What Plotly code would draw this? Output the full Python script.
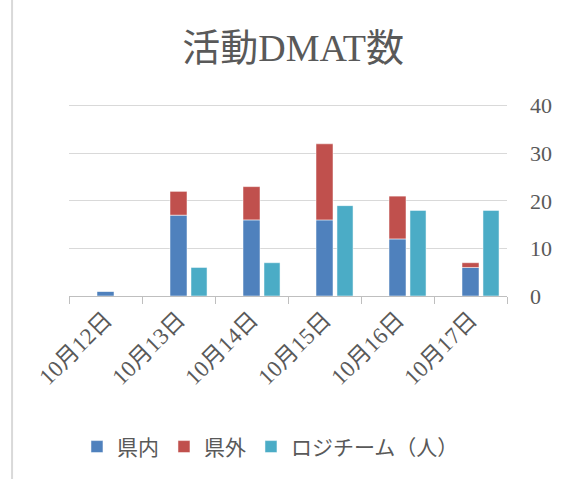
import plotly.graph_objects as go

categories = ["10月12日", "10月13日", "10月14日", "10月15日", "10月16日", "10月17日"]
kennai = [1, 17, 16, 16, 12, 6]
kengai = [0, 5, 7, 16, 9, 1]
logi = [0, 6, 7, 19, 18, 18]
y_ticks = [0, 10, 20, 30, 40]

FONT = "Liberation Serif, 'Noto Sans CJK JP', serif"
TXT = "#595959"

fig = go.Figure()
fig.add_trace(go.Bar(x=categories, y=kennai, name="県内", marker_color="#4f81bd",
                     width=0.233, offset=-0.1165, marker_line=dict(color="#ffffff", width=0.5)))
fig.add_trace(go.Bar(x=categories, y=kengai, base=kennai, name="県外", marker_color="#c0504d",
                     width=0.233, offset=-0.1165, marker_line=dict(color="#ffffff", width=0.5)))
fig.add_trace(go.Bar(x=categories, y=logi, name="ロジチーム（人）", marker_color="#4bacc6",
                     width=0.22, offset=0.171, marker_line=dict(color="#ffffff", width=0.5)))

fig.update_layout(
    width=567, height=479,
    barmode="overlay",
    plot_bgcolor="white", paper_bgcolor="white",
    margin=dict(l=69, r=60, t=101, b=183, autoexpand=False),
    font=dict(family=FONT, color=TXT, size=21),
    title=dict(text="活動DMAT数", x=0.517, xanchor="center", y=0.9, yanchor="middle",
               font=dict(size=38, color=TXT, family=FONT)),
    showlegend=True,
    legend=dict(orientation="h", x=0.46, xanchor="center", y=-0.774, yanchor="middle",
                font=dict(size=21, color=TXT, family=FONT), traceorder="normal"),
    xaxis=dict(type="category", tickangle=-45, showline=True, linecolor="#bfbfbf", linewidth=1,
               ticks="outside", tickson="boundaries", ticklen=7, tickcolor="#bfbfbf",
               showgrid=False, tickfont=dict(size=23, color=TXT, family=FONT), range=[-0.5, 5.5],
               automargin=False),
    yaxis=dict(side="right", range=[0, 41], tickvals=y_ticks, showgrid=True, gridcolor="#d9d9d9",
               gridwidth=1, zeroline=False, showline=False, ticks="",
               tickfont=dict(size=22, color=TXT, family=FONT), ticklabelstandoff=22,
               automargin=False),
    shapes=[dict(type="rect", xref="paper", yref="paper", x0=-0.130, x1=2, y0=-2, y1=1.532,
                 line=dict(color="#d9d9d9", width=2), layer="below")],
)

fig.write_html("out.html", post_script="document.body.style.margin='0px';",
               config={"displayModeBar": False})
